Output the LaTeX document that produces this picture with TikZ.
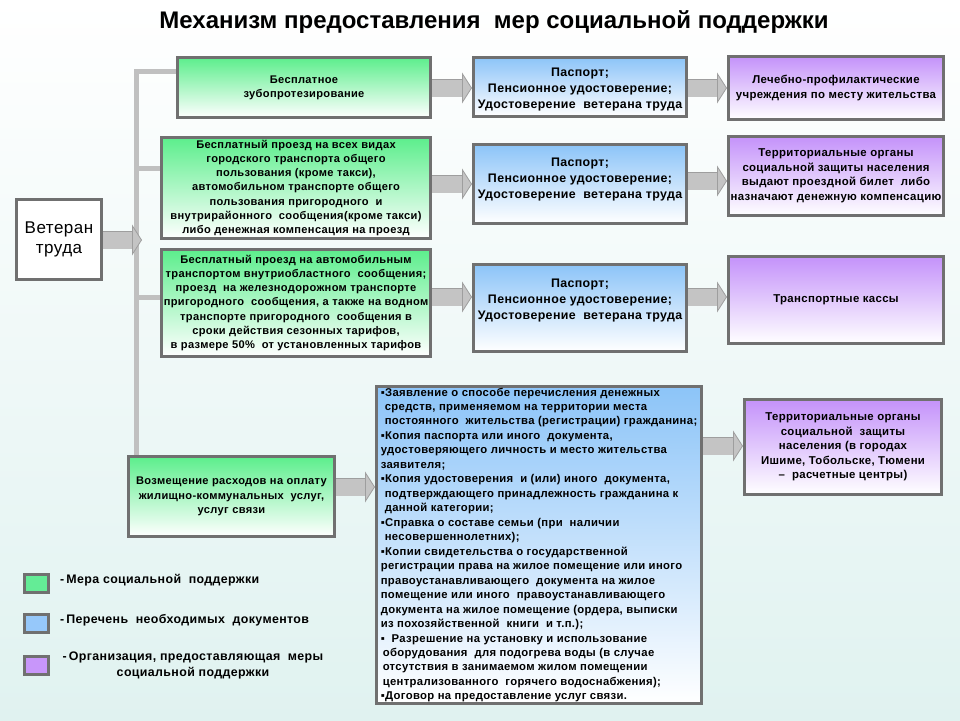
\documentclass[tikz,border=0pt]{standalone}
\usepackage{fontspec}
\setmainfont{Liberation Sans}[LetterSpace=3]
\newfontfamily\titlefont{Liberation Sans}
\usetikzlibrary{arrows.meta}
\definecolor{bordc}{RGB}{112,112,112}
\definecolor{gtop}{RGB}{92,238,140}
\definecolor{btop}{RGB}{140,196,248}
\definecolor{ptop}{RGB}{196,146,250}
\definecolor{gleg}{RGB}{100,236,150}
\definecolor{bleg}{RGB}{150,200,250}
\definecolor{pleg}{RGB}{200,150,250}
\definecolor{arrf}{RGB}{196,196,196}
\definecolor{arre}{RGB}{158,158,158}
\definecolor{trunkc}{RGB}{192,192,192}
\definecolor{bgb}{RGB}{224,242,240}
\begin{document}
\begin{tikzpicture}[x=1pt,y=-1pt,
  box/.style={draw=bordc, line width=3pt, inner sep=0pt, align=center},
  gbox/.style={box, top color=gtop, middle color=gtop!38!white, bottom color=white, font=\fontsize{11.1}{14.3}\selectfont\bfseries},
  bbox/.style={box, top color=btop, middle color=btop!38!white, bottom color=white},
  pbox/.style={box, top color=ptop, middle color=ptop!38!white, bottom color=white, font=\fontsize{11.4}{14.5}\selectfont\bfseries},
  btext/.style={inner sep=0pt, align=center, font=\fontsize{12.4}{16}\selectfont\bfseries},
  legsq/.style={draw=bordc, line width=3pt, minimum width=24pt, minimum height=18pt, inner sep=0pt},
  legtext/.style={inner sep=0pt, align=center, font=\fontsize{12.4}{16}\selectfont\bfseries},
  blockarrow/.style={draw=arrf, line width=17pt,
     preaction={draw=arre, line width=18.4pt, arrows=-, shorten >=9.5pt},
     -{Triangle[length=10pt,width=31pt,line width=0.8pt,fill=arrf,color=arre]}},
  trunk/.style={draw=trunkc, line width=5pt}
]
\useasboundingbox (0,0) rectangle (960,720);
\shade[top color=white, bottom color=bgb] (0,0) rectangle (960,720);

\node[font=\titlefont\fontsize{24}{27}\selectfont\bfseries, inner sep=0pt] (title) at (494,22)
  {Механизм предоставления\ \ мер социальной поддержки};

% veteran
\node[box, fill=white, minimum width=85pt, minimum height=80pt,
      font=\fontsize{17}{20}\selectfont] (vet) at (59,239.5) {Ветеран\\труда};

% green boxes
\node[gbox, minimum width=253pt, minimum height=60pt] (g1) at (304,87.5)
  {Бесплатное\\зубопротезирование};
\node[gbox, minimum width=269pt, minimum height=101pt] (g2) at (296,188)
  {Бесплатный проезд на всех видах\\городского транспорта общего\\пользования (кроме такси),\\автомобильном транспорте общего\\пользования пригородного\ \ и\\внутрирайонного\ \ сообщения(кроме такси)\\либо денежная компенсация на проезд};
\node[gbox, minimum width=269pt, minimum height=107pt] (g3) at (296,303)
  {Бесплатный проезд на автомобильным\\транспортом внутриобластного\ \ сообщения;\\проезд\ \ на железнодорожном транспорте\\пригородного\ \ сообщения, а также на водном\\транспорте пригородного\ \ сообщения в\\сроки действия сезонных тарифов,\\в размере 50\%\ \ от установленных тарифов};
\node[gbox, minimum width=206pt, minimum height=80pt] (g4) at (231.5,496.5)
  {Возмещение расходов на оплату\\жилищно-коммунальных\ \ услуг,\\услуг связи};

% blue boxes
\node[bbox, minimum width=213pt, minimum height=59pt] (b1) at (580,87) {};
\node[btext] (b1t) at (580,90) {Паспорт;\\Пенсионное удостоверение;\\Удостоверение\ \ ветерана труда};
\node[bbox, minimum width=213pt, minimum height=79pt] (b2) at (580,184) {};
\node[btext] (b2t) at (580,180) {Паспорт;\\Пенсионное удостоверение;\\Удостоверение\ \ ветерана труда};
\node[bbox, minimum width=213pt, minimum height=87pt] (b3) at (580,308) {};
\node[btext] (b3t) at (580,300.5) {Паспорт;\\Пенсионное удостоверение;\\Удостоверение\ \ ветерана труда};
\node[bbox, minimum width=325pt, minimum height=317pt,
      align=left, font=\fontsize{11.3}{14.47}\selectfont\bfseries] (b4) at (539,545)
  {▪Заявление о способе перечисления денежных\\
   \hspace*{4pt}средств, применяемом на территории места\\
   \hspace*{4pt}постоянного\ \ жительства (регистрации) гражданина;\\
   ▪Копия паспорта или иного\ \ документа,\\
   удостоверяющего личность и место жительства\\
   заявителя;\\
   ▪Копия удостоверения\ \ и (или) иного\ \ документа,\\
   \hspace*{4pt}подтверждающего принадлежность гражданина к\\
   \hspace*{4pt}данной категории;\\
   ▪Справка о составе семьи (при\ \ наличии\\
   \hspace*{4pt}несовершеннолетних);\\
   ▪Копии свидетельства о государственной\\
   регистрации права на жилое помещение или иного\\
   правоустанавливающего\ \ документа на жилое\\
   помещение или иного\ \ правоустанавливающего\\
   документа на жилое помещение (ордера, выписки\\
   из похозяйственной\ \ книги\ \ и т.п.);\\
   ▪\ \ Разрешение на установку и использование\\
   \hspace*{2pt}оборудования\ \ для подогрева воды (в случае\\
   \hspace*{2pt}отсутствия в занимаемом жилом помещении\\
   \hspace*{2pt}централизованного\ \ горячего водоснабжения);\\
   ▪Договор на предоставление услуг связи.};

% purple boxes
\node[pbox, minimum width=215pt, minimum height=63pt] (p1) at (836,88)
  {Лечебно-профилактические\\учреждения по месту жительства};
\node[pbox, minimum width=215pt, minimum height=79pt] (p2) at (836,176)
  {Территориальные органы\\социальной защиты населения\\выдают проездной билет\ \ либо\\назначают денежную компенсацию};
\node[pbox, minimum width=215pt, minimum height=87pt] (p3) at (836,300)
  {Транспортные кассы};
\node[pbox, minimum width=197pt, minimum height=95pt] (p4) at (843,447)
  {Территориальные органы\\социальной\ \ защиты\\населения (в городах\\Ишиме, Тобольске, Тюмени\\–\ \ расчетные центры)};

% trunk
\coordinate (ttop) at (136,71);
\coordinate (t2) at (136,168);
\coordinate (t3) at (136,297);
\coordinate (tbot) at (g4.north -| ttop);
\coordinate (vtip) at (142,240);
\draw[trunk] (g1.west |- ttop) -- (ttop) -- (tbot);
\draw[trunk] (t2) -- (g2.west |- t2);
\draw[trunk] (t3) -- (g3.west |- t3);

% block arrows
\draw[blockarrow] (vet.east |- vtip) -- (vtip);
\draw[blockarrow] (g1.east |- 0,88) -- (b1.west |- 0,88);
\draw[blockarrow] (g2.east |- 0,184) -- (b2.west |- 0,184);
\draw[blockarrow] (g3.east |- 0,297) -- (b3.west |- 0,297);
\draw[blockarrow] (b1.east |- 0,88) -- (p1.west |- 0,88);
\draw[blockarrow] (b2.east |- 0,181) -- (p2.west |- 0,181);
\draw[blockarrow] (b3.east |- 0,297) -- (p3.west |- 0,297);
\draw[blockarrow] (g4.east |- 0,487) -- (b4.west |- 0,487);
\draw[blockarrow] (b4.east |- 0,446) -- (p4.west |- 0,446);

% legend
\node[legsq, fill=gleg] (l1) at (36,583) {};
\node[legsq, fill=bleg] (l2) at (36,623) {};
\node[legsq, fill=pleg] (l3) at (36,665) {};
\node[legtext, anchor=west] (l1t) at (60,580) {-\,Мера социальной\ \ поддержки};
\node[legtext, anchor=west] (l2t) at (60,620) {-\,Перечень\ \ необходимых\ \ документов};
\node[legtext, anchor=north] (l3t) at (193,652) {-\,Организация, предоставляющая\ \ меры\\социальной поддержки};
\end{tikzpicture}
\end{document}
